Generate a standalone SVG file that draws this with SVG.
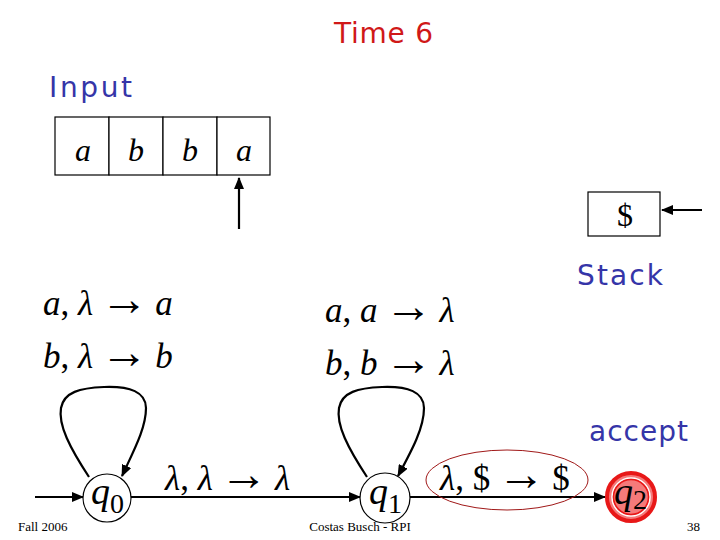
<svg xmlns="http://www.w3.org/2000/svg" width="720" height="540" viewBox="0 0 720 540">
<style>
.hand{font-family:"DejaVu Sans","Noto Sans",sans-serif;}
.red{fill:#d01818;}
.blue{fill:#3535a8;}
.math{font-family:"Liberation Serif","Times New Roman",serif;fill:#000;}
.it{font-style:italic;}
.arr{font-size:48px;}
.cell{fill:#fff;stroke:#000;stroke-width:1.2;}
.line{fill:none;stroke:#000;stroke-width:2.2;}
.state{fill:#fff;stroke:#000;stroke-width:1.2;}
.foot{font-family:"Liberation Serif","Times New Roman",serif;font-size:13px;fill:#000;}
</style>
<defs>
<marker id="ah" markerWidth="12" markerHeight="10" refX="11" refY="5" orient="auto" markerUnits="userSpaceOnUse">
<path d="M0,0 L12,5 L0,10 Z" fill="#000"/>
</marker>
</defs>
<rect width="720" height="540" fill="#fff"/>

<text class="hand red" x="334" y="43" font-size="28" textLength="99">Time 6</text>
<text class="hand blue" x="49" y="97" font-size="28" textLength="83">Input</text>

<g id="tape">
<rect class="cell" x="55" y="117" width="54" height="58"/>
<rect class="cell" x="109" y="117" width="54" height="58"/>
<rect class="cell" x="163" y="117" width="54" height="58"/>
<rect class="cell" x="217" y="117" width="53" height="58"/>
<text class="math it" x="83" y="161" font-size="32" text-anchor="middle">a</text>
<text class="math it" x="136" y="161" font-size="32" text-anchor="middle">b</text>
<text class="math it" x="190" y="161" font-size="32" text-anchor="middle">b</text>
<text class="math it" x="244" y="161" font-size="32" text-anchor="middle">a</text>
</g>

<g id="stack">
<rect class="cell" x="588" y="192" width="72" height="44"/>
<text class="math" x="625" y="226" font-size="32" text-anchor="middle">$</text>
</g>
<text class="hand blue" x="577" y="285" font-size="28" textLength="86">Stack</text>
<text class="hand blue" x="589" y="441" font-size="28" textLength="99">accept</text>

<g id="connectors">
<line class="line" x1="239" y1="229" x2="239" y2="178" marker-end="url(#ah)"/>
<line class="line" x1="702" y1="210" x2="662" y2="210" marker-end="url(#ah)"/>
<line class="line" x1="35" y1="497" x2="83" y2="497" marker-end="url(#ah)"/>
<line class="line" x1="131" y1="497" x2="360" y2="497" marker-end="url(#ah)"/>
<line class="line" x1="410" y1="497" x2="605" y2="497" marker-end="url(#ah)"/>
<path class="line" d="M89,477 C70,448 58,425 61,408 C64,392 80,388 104,387 C130,386 146,392 146,408 C146,428 134,450 122,476" marker-end="url(#ah)"/>
<path class="line" d="M367,477 C348,448 336,425 339,408 C342,392 358,388 382,387 C408,386 424,392 424,408 C424,428 412,450 398,476" marker-end="url(#ah)"/>
</g>

<g id="labels">
<text class="math" x="43" y="315" font-size="35"><tspan class="it">a</tspan>, <tspan class="it">λ</tspan>&#8201;<tspan class="arr">→</tspan>&#8201;<tspan class="it">a</tspan></text>
<text class="math" x="43" y="368" font-size="35"><tspan class="it">b</tspan>, <tspan class="it">λ</tspan>&#8201;<tspan class="arr">→</tspan>&#8201;<tspan class="it">b</tspan></text>
<text class="math" x="325" y="322" font-size="35"><tspan class="it">a</tspan>, <tspan class="it">a</tspan>&#8201;<tspan class="arr">→</tspan>&#8201;<tspan class="it">λ</tspan></text>
<text class="math" x="325" y="375" font-size="35"><tspan class="it">b</tspan>, <tspan class="it">b</tspan>&#8201;<tspan class="arr">→</tspan>&#8201;<tspan class="it">λ</tspan></text>
<text class="math" x="165" y="490" font-size="35"><tspan class="it">λ</tspan>, <tspan class="it">λ</tspan>&#8201;<tspan class="arr">→</tspan>&#8201;<tspan class="it">λ</tspan></text>
<text class="math" x="440" y="490" font-size="35"><tspan class="it">λ</tspan>, $&#8201;<tspan class="arr">→</tspan>&#8201;$</text>
<ellipse cx="507" cy="480" rx="81" ry="30" fill="none" stroke="#a01818" stroke-width="1"/>
</g>

<g id="q0">
<circle class="state" cx="107" cy="498" r="24"/>
<text class="math" x="91" y="504" font-size="38"><tspan class="it">q</tspan><tspan font-size="28" dy="9">0</tspan></text>
</g>
<g id="q1">
<circle class="state" cx="385" cy="498" r="25"/>
<text class="math" x="369" y="504" font-size="38"><tspan class="it">q</tspan><tspan font-size="28" dy="9">1</tspan></text>
</g>
<g id="q2">
<circle cx="631" cy="497" r="24" fill="#f57a7a" stroke="#e81818" stroke-width="4"/>
<circle cx="631" cy="497" r="19" fill="#f57a7a" stroke="#fff" stroke-width="1.5"/>
<circle cx="631" cy="497" r="17.5" fill="none" stroke="#e81818" stroke-width="1.5"/>
<text class="math" x="614" y="504" font-size="38"><tspan class="it">q</tspan><tspan font-size="28" dy="5">2</tspan></text>
</g>

<text class="foot" x="18" y="531">Fall 2006</text>
<text class="foot" x="360" y="531" text-anchor="middle">Costas Busch - RPI</text>
<text class="foot" x="700" y="531" text-anchor="end">38</text>
</svg>
